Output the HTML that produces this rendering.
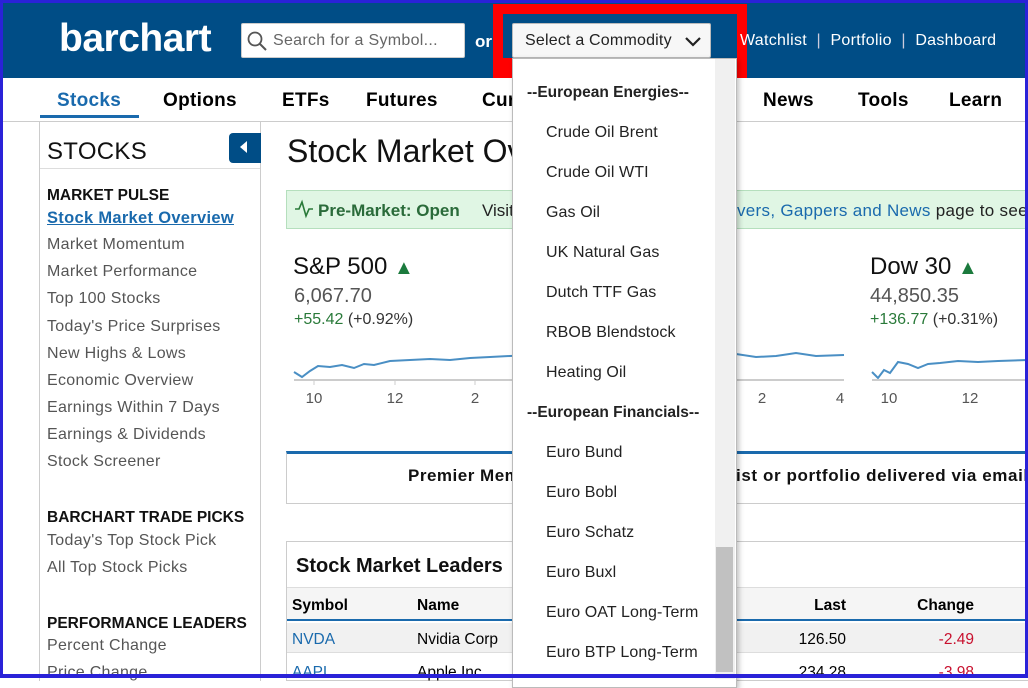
<!DOCTYPE html>
<html><head><meta charset="utf-8">
<style>
*{margin:0;padding:0;box-sizing:border-box}
body{width:1028px;height:678px;overflow:hidden;position:relative;background:#fff;font-family:"Liberation Sans",Arial,sans-serif;color:#000}
.a{position:absolute;white-space:nowrap}
.hdr{position:absolute;left:0;top:0;width:1028px;height:78px;background:#004d86}
.nav{font-size:19px;font-weight:bold;top:90px;letter-spacing:0.3px}
.sb{font-size:16px;color:#555;left:47px;letter-spacing:0.3px}
.sbh{font-size:15.5px;font-weight:bold;color:#111;left:47px}
.dd{font-size:16px;color:#222;left:546px;letter-spacing:0.1px}
.ddh{font-size:15.5px;font-weight:bold;color:#222;left:527px}
</style></head><body>
<div class="hdr"></div>
<div class="a" style="left:59px;top:17px;font-size:39px;font-weight:bold;color:#fff;letter-spacing:-0.5px">barchart</div>
<div class="a" style="left:241px;top:23px;width:224px;height:35px;background:#fff;border:1px solid #ccc;border-radius:2px"></div>
<svg class="a" style="left:246px;top:30px" width="22" height="22"><circle cx="9" cy="9" r="6.5" fill="none" stroke="#555" stroke-width="1.8"/><line x1="14" y1="14" x2="20" y2="20" stroke="#555" stroke-width="2"/></svg>
<div class="a" style="left:273px;top:32px;font-size:16px;color:#666;letter-spacing:0.3px">Search for a Symbol...</div>
<div class="a" style="left:475px;top:32px;font-size:17px;font-weight:bold;color:#fff">or</div>
<div class="a" style="left:493px;top:4px;width:254px;height:74px;border:10px solid #f00;border-bottom-width:20px"></div>
<div class="a" style="left:512px;top:23px;width:199px;height:35px;background:#f7f7f7;border:1px solid #bbb;border-radius:2px"></div>
<div class="a" style="left:525px;top:32px;font-size:16px;color:#222;letter-spacing:0.2px">Select a Commodity</div>
<svg class="a" style="left:684px;top:36px" width="18" height="12"><polyline points="2,2 9,9 16,2" fill="none" stroke="#222" stroke-width="2.2"/></svg>
<div class="a" style="left:740px;top:32px;font-size:16px;color:#fff;letter-spacing:0.3px">Watchlist &nbsp;<span style="color:#ccd">|</span>&nbsp; Portfolio &nbsp;<span style="color:#ccd">|</span>&nbsp; Dashboard</div>

<div class="a" style="left:0;top:121px;width:1028px;height:1px;background:#ccc"></div>
<div class="a nav" style="left:57px;color:#1a6aad">Stocks</div>
<div class="a" style="left:40px;top:115px;width:99px;height:3px;background:#1a6aad"></div>
<div class="a nav" style="left:163px">Options</div>
<div class="a nav" style="left:282px">ETFs</div>
<div class="a nav" style="left:366px">Futures</div>
<div class="a nav" style="left:482px">Cur</div>
<div class="a nav" style="left:763px">News</div>
<div class="a nav" style="left:858px">Tools</div>
<div class="a nav" style="left:949px">Learn</div>

<div class="a" style="left:39px;top:121px;width:222px;height:560px;border-left:1px solid #ccc;border-right:1px solid #ccc"></div>
<div class="a" style="left:47px;top:138px;font-size:24px;color:#111;letter-spacing:0.3px">STOCKS</div>
<div class="a" style="left:40px;top:168px;width:220px;height:1px;background:#ddd"></div>
<div class="a" style="left:229px;top:133px;width:32px;height:30px;background:#004d86;border-radius:4px 0 0 4px"></div>
<svg class="a" style="left:238px;top:140px" width="12" height="16"><polygon points="9,1 9,13 2,7" fill="#fff"/></svg>
<div class="a sbh" style="top:187px">MARKET PULSE</div>
<div class="a" style="left:47px;top:209px;font-size:16.5px;font-weight:bold;color:#1a6aad;text-decoration:underline;letter-spacing:0.3px">Stock Market Overview</div>
<div class="a sb" style="top:236px">Market Momentum</div>
<div class="a sb" style="top:263px">Market Performance</div>
<div class="a sb" style="top:290px">Top 100 Stocks</div>
<div class="a sb" style="top:318px">Today's Price Surprises</div>
<div class="a sb" style="top:345px">New Highs &amp; Lows</div>
<div class="a sb" style="top:372px">Economic Overview</div>
<div class="a sb" style="top:399px">Earnings Within 7 Days</div>
<div class="a sb" style="top:426px">Earnings &amp; Dividends</div>
<div class="a sb" style="top:453px">Stock Screener</div>
<div class="a sbh" style="top:509px">BARCHART TRADE PICKS</div>
<div class="a sb" style="top:532px">Today's Top Stock Pick</div>
<div class="a sb" style="top:559px">All Top Stock Picks</div>
<div class="a sbh" style="top:615px">PERFORMANCE LEADERS</div>
<div class="a sb" style="top:637px">Percent Change</div>
<div class="a sb" style="top:664px">Price Change</div>

<div class="a" style="left:287px;top:133px;font-size:32px;color:#111">Stock Market Overview</div>
<div class="a" style="left:286px;top:190px;width:750px;height:39px;background:#e0f6e4;border:1px solid #b5dfbd"></div>
<svg class="a" style="left:294px;top:199px" width="20" height="20"><polyline points="1,10 5,10 8,3 12,17 15,10 19,10" fill="none" stroke="#2a7a3a" stroke-width="1.6"/></svg>
<div class="a" style="left:318px;top:201px;font-size:17px;font-weight:bold;color:#2a6b3a">Pre-Market: Open</div>
<div class="a" style="left:482px;top:201px;font-size:17px;color:#222">Visit</div>
<div class="a" style="left:737px;top:201px;font-size:17px;color:#222;letter-spacing:0.3px"><span style="color:#1a6aad">vers, Gappers and News</span> page to see</div>

<div class="a" style="left:293px;top:253px;font-size:24px;color:#111">S&amp;P 500 <span style="color:#1b7a3d;font-size:20px">▲</span></div>
<div class="a" style="left:294px;top:285px;font-size:20px;color:#555">6,067.70</div>
<div class="a" style="left:294px;top:311px;font-size:16px;color:#2a7a3a">+55.42 <span style="color:#333">(+0.92%)</span></div>
<svg class="a" style="left:290px;top:340px" width="240" height="70">
<polyline points="4,32 12,37 20,31 28,26 40,27 52,25 64,28 74,24 84,25 100,21 120,20 140,19 160,20 180,18 200,17 220,16 240,15" fill="none" stroke="#4a8fc4" stroke-width="2"/>
<line x1="4" y1="40" x2="240" y2="40" stroke="#ccc" stroke-width="2"/>
<line x1="24" y1="40" x2="24" y2="45" stroke="#ccc"/><line x1="105" y1="40" x2="105" y2="45" stroke="#ccc"/><line x1="185" y1="40" x2="185" y2="45" stroke="#ccc"/>
<text x="24" y="63" font-size="15" fill="#555" text-anchor="middle" font-family="Liberation Sans">10</text>
<text x="105" y="63" font-size="15" fill="#555" text-anchor="middle" font-family="Liberation Sans">12</text>
<text x="185" y="63" font-size="15" fill="#555" text-anchor="middle" font-family="Liberation Sans">2</text>
</svg>
<svg class="a" style="left:736px;top:340px" width="110" height="70">
<polyline points="0,14 20,17 40,16 60,13 80,16 108,15" fill="none" stroke="#4a8fc4" stroke-width="2"/>
<line x1="0" y1="40" x2="108" y2="40" stroke="#ccc" stroke-width="2"/>
<text x="26" y="63" font-size="15" fill="#555" text-anchor="middle" font-family="Liberation Sans">2</text>
<text x="104" y="63" font-size="15" fill="#555" text-anchor="middle" font-family="Liberation Sans">4</text>
</svg>
<div class="a" style="left:870px;top:253px;font-size:24px;color:#111">Dow 30 <span style="color:#1b7a3d;font-size:20px">▲</span></div>
<div class="a" style="left:870px;top:285px;font-size:20px;color:#555">44,850.35</div>
<div class="a" style="left:870px;top:311px;font-size:16px;color:#2a7a3a">+136.77 <span style="color:#333">(+0.31%)</span></div>
<svg class="a" style="left:868px;top:340px" width="160" height="70">
<polyline points="4,32 10,38 16,30 22,33 30,22 40,24 50,28 60,24 72,23 90,21 110,22 130,21 160,20" fill="none" stroke="#4a8fc4" stroke-width="2"/>
<line x1="4" y1="40" x2="160" y2="40" stroke="#ccc" stroke-width="2"/>
<text x="21" y="63" font-size="15" fill="#555" text-anchor="middle" font-family="Liberation Sans">10</text>
<text x="102" y="63" font-size="15" fill="#555" text-anchor="middle" font-family="Liberation Sans">12</text>
</svg>

<div class="a" style="left:286px;top:451px;width:750px;height:53px;border:1px solid #ccc;border-top:3px solid #1a6aad"></div>
<div class="a" style="left:408px;top:466px;font-size:17px;font-weight:bold;color:#111;letter-spacing:0.5px">Premier Members</div>
<div class="a" style="left:736px;top:466px;font-size:17px;font-weight:bold;color:#111;letter-spacing:0.6px">ist or portfolio delivered via email</div>

<div class="a" style="left:286px;top:541px;width:750px;height:140px;border:1px solid #ccc"></div>
<div class="a" style="left:296px;top:555px;font-size:20px;font-weight:bold;color:#111">Stock Market Leaders</div>
<div class="a" style="left:287px;top:587px;width:741px;height:34px;background:#f5f5f5;border-top:1px solid #ddd;border-bottom:2px solid #1a6aad"></div>
<div class="a" style="left:292px;top:597px;font-size:15.5px;font-weight:bold">Symbol</div>
<div class="a" style="left:417px;top:597px;font-size:15.5px;font-weight:bold">Name</div>
<div class="a" style="left:786px;top:597px;width:60px;text-align:right;font-size:15.5px;font-weight:bold">Last</div>
<div class="a" style="left:894px;top:597px;width:80px;text-align:right;font-size:15.5px;font-weight:bold">Change</div>
<div class="a" style="left:287px;top:623px;width:741px;height:30px;background:#f1f1f1;border-bottom:1px solid #ddd"></div>
<div class="a" style="left:292px;top:631px;font-size:15.5px;color:#1a6aad">NVDA</div>
<div class="a" style="left:417px;top:631px;font-size:15.5px">Nvidia Corp</div>
<div class="a" style="left:766px;top:631px;width:80px;text-align:right;font-size:15.5px">126.50</div>
<div class="a" style="left:894px;top:631px;width:80px;text-align:right;font-size:15.5px;color:#c8102e">-2.49</div>
<div class="a" style="left:292px;top:664px;font-size:15.5px;color:#1a6aad">AAPL</div>
<div class="a" style="left:417px;top:664px;font-size:15.5px">Apple Inc</div>
<div class="a" style="left:766px;top:664px;width:80px;text-align:right;font-size:15.5px">234.28</div>
<div class="a" style="left:894px;top:664px;width:80px;text-align:right;font-size:15.5px;color:#c8102e">-3.98</div>

<div class="a" style="left:512px;top:58px;width:225px;height:630px;background:#fff;border:1px solid #bbb;box-shadow:2px 2px 5px rgba(0,0,0,.25)"></div>
<div class="a" style="left:715px;top:59px;width:20px;height:620px;background:#f0f0f0"></div>
<div class="a" style="left:716px;top:547px;width:17px;height:125px;background:#c1c1c1"></div>
<div class="a ddh" style="top:84px">--European Energies--</div>
<div class="a dd" style="top:124px">Crude Oil Brent</div>
<div class="a dd" style="top:164px">Crude Oil WTI</div>
<div class="a dd" style="top:204px">Gas Oil</div>
<div class="a dd" style="top:244px">UK Natural Gas</div>
<div class="a dd" style="top:284px">Dutch TTF Gas</div>
<div class="a dd" style="top:324px">RBOB Blendstock</div>
<div class="a dd" style="top:364px">Heating Oil</div>
<div class="a ddh" style="top:404px">--European Financials--</div>
<div class="a dd" style="top:444px">Euro Bund</div>
<div class="a dd" style="top:484px">Euro Bobl</div>
<div class="a dd" style="top:524px">Euro Schatz</div>
<div class="a dd" style="top:564px">Euro Buxl</div>
<div class="a dd" style="top:604px">Euro OAT Long-Term</div>
<div class="a dd" style="top:644px">Euro BTP Long-Term</div>

<div class="a" style="left:0;top:0;width:1028px;height:678px;border:3px solid #2a22d8;border-bottom-width:4px"></div>
</body></html>
